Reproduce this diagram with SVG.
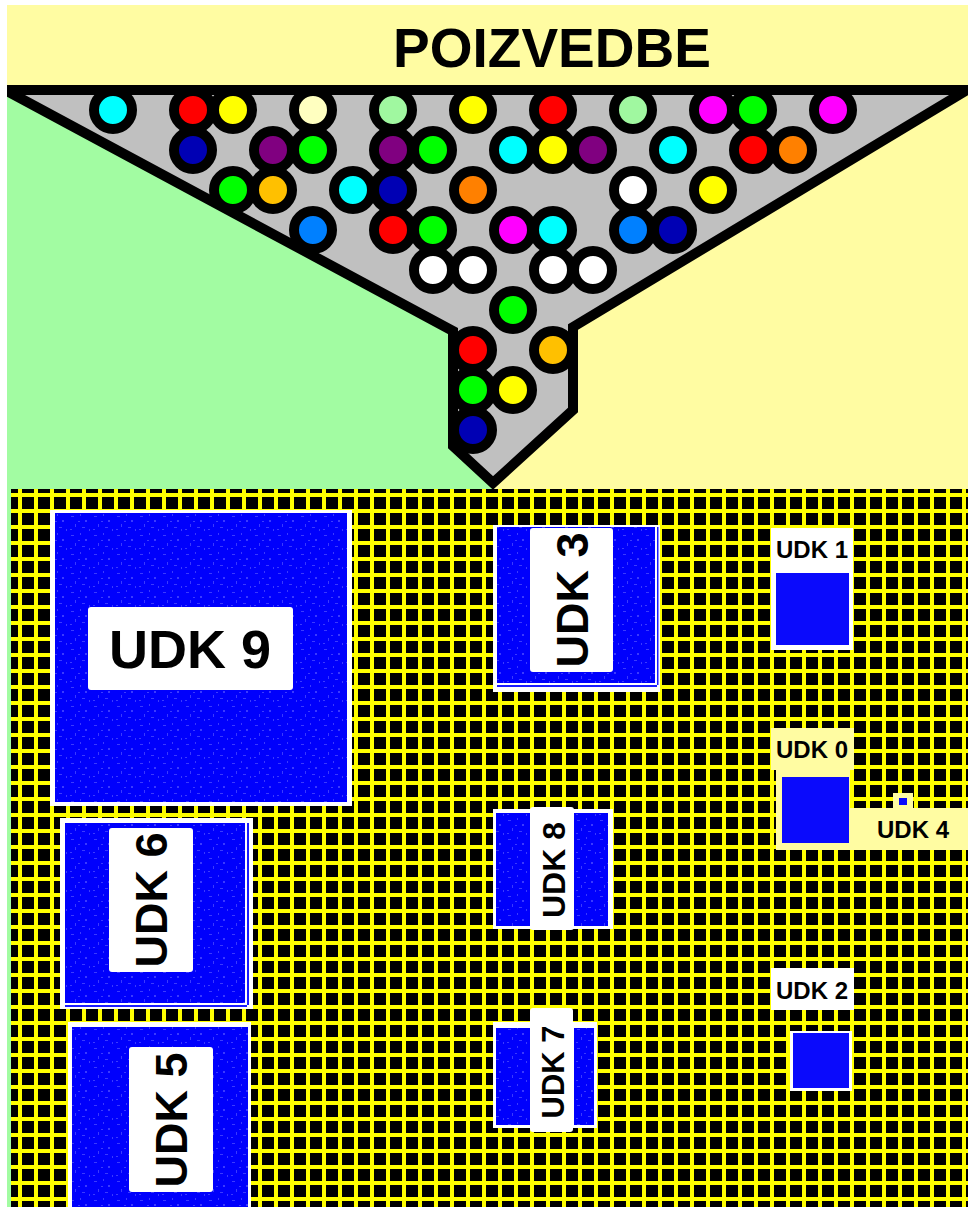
<svg xmlns="http://www.w3.org/2000/svg" width="968" height="1207" viewBox="0 0 968 1207">
<defs>
<style>
.ball{stroke:#000;stroke-width:10}
.lbl{font-family:"Liberation Sans",Arial,sans-serif;font-weight:bold;fill:#000;text-anchor:middle}
.wht{fill:#fff}
.ylw{fill:#fffca2}
.blu{fill:url(#tex)}
.sol{fill:#0a0afc}
.thin{fill:#1a1aff}
</style>
<pattern id="grid" patternUnits="userSpaceOnUse" x="18" y="493" width="16" height="16">
<rect width="16" height="16" fill="#000"/>
<rect width="4" height="16" fill="#ffff00"/>
<rect width="16" height="4" fill="#ffff00"/>
</pattern>
<pattern id="tex" patternUnits="userSpaceOnUse" width="23" height="19">
<rect width="23" height="19" fill="#0000fc"/>
<rect x="2" y="3" width="3" height="1" fill="#3a3aff"/>
<rect x="11" y="1" width="1" height="2" fill="#3a3aff"/>
<rect x="16" y="7" width="2" height="2" fill="#3a3aff"/>
<rect x="6" y="11" width="1" height="3" fill="#3a3aff"/>
<rect x="13" y="14" width="3" height="1" fill="#3a3aff"/>
<rect x="20" y="16" width="1" height="2" fill="#3a3aff"/>
<rect x="1" y="16" width="2" height="1" fill="#3a3aff"/>
<rect x="9" y="8" width="2" height="1" fill="#3a3aff"/>
</pattern>
</defs>

<g id="background">
<rect width="968" height="1207" fill="#fff"/>
<rect x="7" y="5" width="961" height="1202" fill="#fffca2"/>
<polygon points="7,88 460,331 460,446 493,480 493,1207 7,1207" fill="#a2fca2"/>
</g>

<g id="title">
<text class="lbl" x="552" y="67" font-size="55">POIZVEDBE</text>
</g>

<g id="funnel">
<polygon points="5,90 967,90 573,327 573,410 493,483 453,446 453,331" fill="#c0c0c0" stroke="#000" stroke-width="10" stroke-linejoin="miter" stroke-miterlimit="10"/>
<rect x="0" y="0" width="7" height="489" fill="#fff"/>
</g>

<g id="balls">
<circle class="ball" cx="113" cy="110" r="19" fill="#00ffff"/>
<circle class="ball" cx="193" cy="110" r="19" fill="#ff0000"/>
<circle class="ball" cx="233" cy="110" r="19" fill="#ffff00"/>
<circle class="ball" cx="313" cy="110" r="19" fill="#ffffc0"/>
<circle class="ball" cx="393" cy="110" r="19" fill="#a0f8a0"/>
<circle class="ball" cx="473" cy="110" r="19" fill="#ffff00"/>
<circle class="ball" cx="553" cy="110" r="19" fill="#ff0000"/>
<circle class="ball" cx="633" cy="110" r="19" fill="#a0f8a0"/>
<circle class="ball" cx="713" cy="110" r="19" fill="#ff00ff"/>
<circle class="ball" cx="753" cy="110" r="19" fill="#00ff00"/>
<circle class="ball" cx="833" cy="110" r="19" fill="#ff00ff"/>

<circle class="ball" cx="193" cy="150" r="19" fill="#0000b4"/>
<circle class="ball" cx="273" cy="150" r="19" fill="#800080"/>
<circle class="ball" cx="313" cy="150" r="19" fill="#00ff00"/>
<circle class="ball" cx="393" cy="150" r="19" fill="#800080"/>
<circle class="ball" cx="433" cy="150" r="19" fill="#00ff00"/>
<circle class="ball" cx="513" cy="150" r="19" fill="#00ffff"/>
<circle class="ball" cx="553" cy="150" r="19" fill="#ffff00"/>
<circle class="ball" cx="593" cy="150" r="19" fill="#800080"/>
<circle class="ball" cx="673" cy="150" r="19" fill="#00ffff"/>
<circle class="ball" cx="753" cy="150" r="19" fill="#ff0000"/>
<circle class="ball" cx="793" cy="150" r="19" fill="#ff8000"/>

<circle class="ball" cx="233" cy="190" r="19" fill="#00ff00"/>
<circle class="ball" cx="273" cy="190" r="19" fill="#ffc000"/>
<circle class="ball" cx="353" cy="190" r="19" fill="#00ffff"/>
<circle class="ball" cx="393" cy="190" r="19" fill="#0000b4"/>
<circle class="ball" cx="473" cy="190" r="19" fill="#ff8000"/>
<circle class="ball" cx="633" cy="190" r="19" fill="#ffffff"/>
<circle class="ball" cx="713" cy="190" r="19" fill="#ffff00"/>

<circle class="ball" cx="313" cy="230" r="19" fill="#0080ff"/>
<circle class="ball" cx="393" cy="230" r="19" fill="#ff0000"/>
<circle class="ball" cx="433" cy="230" r="19" fill="#00ff00"/>
<circle class="ball" cx="513" cy="230" r="19" fill="#ff00ff"/>
<circle class="ball" cx="553" cy="230" r="19" fill="#00ffff"/>
<circle class="ball" cx="633" cy="230" r="19" fill="#0080ff"/>
<circle class="ball" cx="673" cy="230" r="19" fill="#0000b4"/>

<circle class="ball" cx="433" cy="270" r="19" fill="#ffffff"/>
<circle class="ball" cx="473" cy="270" r="19" fill="#ffffff"/>
<circle class="ball" cx="553" cy="270" r="19" fill="#ffffff"/>
<circle class="ball" cx="593" cy="270" r="19" fill="#ffffff"/>

<circle class="ball" cx="513" cy="310" r="19" fill="#00ff00"/>
<circle class="ball" cx="473" cy="350" r="19" fill="#ff0000"/>
<circle class="ball" cx="553" cy="350" r="19" fill="#ffc000"/>
<circle class="ball" cx="473" cy="390" r="19" fill="#00ff00"/>
<circle class="ball" cx="513" cy="390" r="19" fill="#ffff00"/>
<circle class="ball" cx="473" cy="430" r="19" fill="#0000b4"/>
</g>

<g id="grid">
<rect x="11" y="489" width="957" height="718" fill="url(#grid)"/>
</g>

<g id="udk9">
<rect class="wht" x="50" y="510" width="302" height="296"/>
<rect class="blu" x="55" y="513" width="292" height="289"/>
<rect class="wht" x="88" y="607" width="205" height="83" rx="3"/>
<text class="lbl" x="190" y="668" font-size="54">UDK 9</text>
</g>

<g id="udk6">
<rect class="wht" x="60" y="818" width="193" height="191"/>
<rect class="blu" x="65" y="823" width="180" height="180"/>
<rect class="thin" x="247" y="823" width="2" height="182"/>
<rect class="thin" x="65" y="1005" width="182" height="2"/>
<rect class="wht" x="109" y="828" width="84" height="144" rx="3"/>
<text class="lbl" transform="translate(167,900) rotate(-90)" font-size="45">UDK 6</text>
</g>

<g id="udk5">
<rect class="wht" x="68" y="1022" width="183" height="186"/>
<rect class="blu" x="72" y="1027" width="176" height="180"/>
<rect class="wht" x="129" y="1047" width="84" height="145" rx="3"/>
<text class="lbl" transform="translate(187,1120) rotate(-90)" font-size="45">UDK 5</text>
</g>

<g id="udk3">
<rect class="wht" x="493" y="525" width="167" height="167"/>
<rect class="blu" x="497" y="527" width="158" height="156"/>
<rect class="thin" x="657" y="527" width="1.5" height="158"/>
<rect class="thin" x="497" y="685" width="160" height="2"/>
<rect class="wht" x="530" y="528" width="83" height="144" rx="3"/>
<text class="lbl" transform="translate(588,600) rotate(-90)" font-size="45">UDK 3</text>
</g>

<g id="udk8">
<rect class="wht" x="493" y="809" width="120" height="120"/>
<rect class="blu" x="496" y="813" width="34" height="113"/>
<rect class="blu" x="574" y="813" width="34" height="113"/>
<rect class="wht" x="530" y="807" width="44" height="123" rx="3"/>
<text class="lbl" transform="translate(565,870) rotate(-90)" font-size="32">UDK 8</text>
</g>

<g id="udk7">
<rect class="wht" x="493" y="1022" width="104" height="106"/>
<rect class="blu" x="496" y="1028" width="34" height="97"/>
<rect class="blu" x="574" y="1028" width="20" height="97"/>
<rect class="wht" x="530" y="1008" width="43" height="124" rx="3"/>
<text class="lbl" transform="translate(564,1072) rotate(-90)" font-size="31">UDK 7</text>
</g>

<g id="udk1">
<rect class="wht" x="771" y="528" width="82" height="122"/>
<rect class="sol" x="776" y="573" width="73" height="72"/>
<text class="lbl" x="812" y="558" font-size="24">UDK 1</text>
</g>

<g id="udk0">
<rect class="ylw" x="771" y="728" width="83" height="42"/>
<rect class="ylw" x="776" y="770" width="74" height="80"/>
<rect class="sol" x="782" y="777" width="67" height="66"/>
<text class="lbl" x="812" y="758" font-size="24">UDK 0</text>
</g>

<g id="udk4">
<rect class="ylw" x="893" y="793" width="20" height="16"/>
<rect class="sol" x="899" y="798" width="8" height="7"/>
<rect class="ylw" x="850" y="808" width="118" height="42"/>
<text class="lbl" x="913" y="838" font-size="24">UDK 4</text>
</g>

<g id="udk2">
<rect class="wht" x="771" y="968" width="83" height="42"/>
<text class="lbl" x="812" y="999" font-size="24">UDK 2</text>
<rect class="wht" x="790" y="1031" width="62" height="60"/>
<rect class="sol" x="793" y="1033" width="56" height="55"/>
</g>

<g id="connectors"/>
</svg>
